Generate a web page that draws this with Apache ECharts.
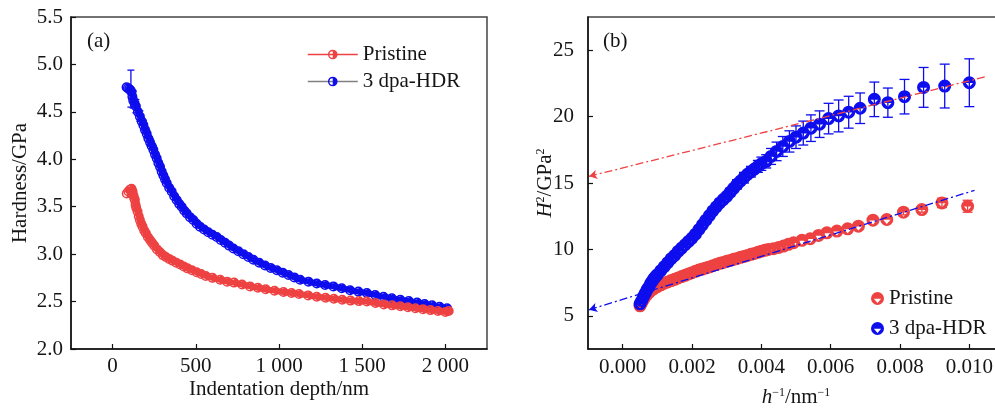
<!DOCTYPE html>
<html>
<head>
<meta charset="utf-8">
<script src="https://cdn.jsdelivr.net/npm/echarts@6/dist/echarts.min.js"></script>
<style>
html,body{margin:0;padding:0;background:#fff;}
#c{width:995px;height:408px;}
</style>
</head>
<body>
<div id="c"></div>
<script>
// ---------- data ----------
const seriesNames = ['Pristine', '3 dpa-HDR'];
const panelLabels = ['(a)', '(b)'];

// (a) hardness vs indentation depth  [depth nm, H GPa]
const pristineDepth = [
  [85,3.64],[95,3.66],[105,3.68],[114,3.69],[120,3.66],[125,3.62],[130,3.59],[134,3.57],[138,3.52],[142,3.49],
  [150,3.45],[157,3.40],[164,3.36],[172,3.32],[180,3.29],[190,3.25],[200,3.22],[212,3.18],[225,3.15],[237,3.12],
  [250,3.09],[267,3.05],[285,3.02],[302,2.99],[320,2.97],[340,2.95],[360,2.93],[383,2.91],[406,2.89],[428,2.87],
  [450,2.85],[477,2.83],[505,2.81],[532,2.79],[560,2.77],[600,2.75],[646,2.73],[688,2.71],[730,2.70],[778,2.68],
  [826,2.66],[873,2.645],[920,2.63],[973,2.615],[1027,2.60],[1075,2.59],[1120,2.58],[1175,2.565],[1227,2.55],[1280,2.54],
  [1330,2.53],[1380,2.52],[1430,2.51],[1480,2.505],[1528,2.50],[1580,2.485],[1630,2.47],[1680,2.46],[1729,2.45],[1775,2.44],
  [1820,2.43],[1865,2.42],[1910,2.41],[1955,2.40],[2000,2.39],[2020,2.40]
];
const hdrDepth = [
  [84,4.76],[92,4.75],[100,4.74],[107,4.73],[114,4.71],[119,4.66],[124,4.62],[132,4.59],[140,4.56],[152,4.50],
  [164,4.45],[175,4.40],[185,4.36],[195,4.31],[205,4.27],[215,4.22],[225,4.18],[235,4.14],[245,4.10],[255,4.05],
  [265,4.01],[275,3.96],[285,3.92],[295,3.87],[305,3.83],[315,3.79],[325,3.75],[340,3.70],[355,3.66],[370,3.61],
  [385,3.57],[400,3.53],[415,3.50],[430,3.46],[445,3.43],[465,3.39],[485,3.36],[505,3.32],[525,3.29],[550,3.26],
  [575,3.23],[600,3.205],[626,3.18],[650,3.15],[676,3.12],[700,3.09],[726,3.06],[756,3.03],[786,3.00],[816,2.97],
  [846,2.94],[881,2.91],[916,2.88],[950,2.855],[987,2.83],[1022,2.805],[1057,2.78],[1092,2.755],[1127,2.73],[1177,2.71],
  [1227,2.69],[1277,2.675],[1327,2.66],[1377,2.64],[1427,2.62],[1477,2.605],[1528,2.59],[1578,2.57],[1628,2.55],[1678,2.535],
  [1729,2.52],[1780,2.505],[1830,2.49],[1875,2.475],[1920,2.46],[1965,2.445],[2010,2.43]
];
// error bars [depth, low, high]
const hdrDepthErr = [
  [110,4.55,4.94],[124,4.54,4.72],[140,4.49,4.63],[164,4.40,4.51],[185,4.31,4.41],[205,4.23,4.31],[225,4.14,4.22],[245,4.06,4.14]
];

// (b) H^2 vs 1/h  [1/h nm^-1, H^2 GPa^2]
const pristineInv = [
  [0.00050,5.75],[0.00053,5.9],[0.00056,6.05],[0.00060,6.25],[0.00065,6.45],[0.00070,6.6],[0.00075,6.75],[0.00080,6.85],
  [0.00090,7.05],[0.00100,7.2],[0.00110,7.33],[0.00120,7.45],[0.00130,7.55],[0.00140,7.65],[0.00150,7.75],[0.00160,7.85],
  [0.00170,7.95],[0.00180,8.05],[0.00190,8.15],[0.00200,8.25],[0.00210,8.35],[0.00220,8.45],[0.00230,8.52],[0.00240,8.6],
  [0.00250,8.68],[0.00260,8.77],[0.00270,8.86],[0.00280,8.95],[0.00290,9.02],[0.00300,9.1],[0.00310,9.17],[0.00320,9.25],
  [0.00330,9.32],[0.00340,9.4],[0.00350,9.47],[0.00360,9.55],[0.00370,9.63],[0.00380,9.7],[0.00390,9.78],[0.00400,9.86],
  [0.00410,9.93],[0.00420,10.0],[0.00435,10.05],[0.00450,10.15],[0.00464,10.25],[0.00478,10.38],[0.00493,10.5],
  [0.00517,10.68],[0.00541,10.8],[0.00565,11.05],[0.00589,11.25],[0.00618,11.38],[0.00649,11.55],[0.00680,11.75],
  [0.00722,12.2],[0.00762,12.25],[0.00810,12.8],[0.00863,13.0],[0.00921,13.5],[0.00995,13.25]
];
const hdrInv = [
  [0.00050,5.9],[0.00055,6.15],[0.00060,6.45],[0.00065,6.7],[0.00070,6.95],[0.00075,7.15],[0.00080,7.4],[0.00085,7.6],
  [0.00090,7.8],[0.00095,7.95],[0.00100,8.1],[0.00110,8.4],[0.00120,8.7],[0.00130,9.0],[0.00140,9.3],[0.00150,9.55],
  [0.00160,9.85],[0.00170,10.1],[0.00180,10.35],[0.00190,10.6],[0.00200,10.85],[0.00210,11.15],[0.00220,11.5],[0.00230,11.85],
  [0.00240,12.2],[0.00250,12.55],[0.00260,12.9],[0.00270,13.2],[0.00280,13.5],[0.00290,13.75],[0.00300,14.0],[0.00310,14.3],
  [0.00320,14.6],[0.00330,14.9],[0.00340,15.15],[0.00350,15.4],[0.00360,15.65],[0.00370,15.85],[0.00380,16.05],[0.00390,16.25],
  [0.00400,16.45],
  [0.00414,16.63],[0.00428,17.0],[0.00444,17.38],[0.00462,17.75],[0.00481,18.13],[0.00500,18.45],[0.00521,18.76],
  [0.00543,19.13],[0.00568,19.43],[0.00594,19.85],[0.00623,20.05],[0.00652,20.33],[0.00685,20.63],[0.00726,21.3],
  [0.00765,21.05],[0.00813,21.5],[0.00868,22.2],[0.00929,22.3],[0.01000,22.55]
];
// error bars [1/h, low, high]
const hdrInvErr = [
  [0.00310,14.0,14.6],[0.00330,14.55,15.25],[0.00350,15.0,15.8],[0.00370,15.45,16.25],[0.00390,15.8,16.7],
  [0.00400,15.95,16.95],[0.00414,16.13,17.13],[0.00428,16.4,17.6],[0.00444,16.68,18.08],[0.00462,17.0,18.5],
  [0.00481,17.33,18.93],[0.00500,17.6,19.3],[0.00521,17.86,19.66],[0.00543,18.13,20.13],[0.00568,18.43,20.43],
  [0.00594,18.7,21.0],[0.00623,18.85,21.25],[0.00652,19.13,21.53],[0.00685,19.48,21.78],[0.00726,20.0,22.6],
  [0.00765,19.95,22.15],[0.00813,20.2,22.8],[0.00868,20.7,23.7],[0.00929,20.65,23.95],[0.01000,20.75,24.35]
];
const pristineInvErr = [
  [0.00810,12.6,13.0],[0.00863,12.8,13.2],[0.00921,13.15,13.85],[0.00995,12.8,13.7]
];
// linear fits (drawn with arrow towards the y axis)
const fitHdr = [[-0.00097,15.5],[0.01046,23.0]];
const fitPristine = [[-0.00097,5.45],[0.01015,14.45]];

// axis ticks
const depthTicks = [0,500,1000,1500,2000];
const invTicks = [0,0.002,0.004,0.006,0.008,0.010];
const h2Ticks = [5,10,15,20,25];

// ---------- style ----------
const FONT = '"Liberation Serif","Times New Roman",serif';
const FS = 21;
const RED = '#EE4242';
const BLUE = '#0D0DEE';
const TXT = '#151515';
const RING_LEFT = 'path://M0,10 A10,10 0 1,1 20,10 A10,10 0 1,1 0,10 Z M10,17 L10,3 A7,7 0 0,0 10,17 Z';
const RING_TRI = 'path://M0,10 A10,10 0 1,1 20,10 A10,10 0 1,1 0,10 Z M15.6,10.5 L4.4,10.5 L10,16.8 Z';

function errRender(capW, color, lw) {
  return function (params, api) {
    const x = api.value(0), lo = api.value(1), hi = api.value(2);
    const a = api.coord([x, lo]), b = api.coord([x, hi]);
    const st = {stroke: color, lineWidth: lw};
    return {type: 'group', children: [
      {type: 'line', shape: {x1: a[0], y1: a[1], x2: b[0], y2: b[1]}, style: st},
      {type: 'line', shape: {x1: a[0] - capW / 2, y1: a[1], x2: a[0] + capW / 2, y2: a[1]}, style: st},
      {type: 'line', shape: {x1: b[0] - capW / 2, y1: b[1], x2: b[0] + capW / 2, y2: b[1]}, style: st}
    ]};
  };
}
function fmtDepth(v) {
  if (v >= 1000) return Math.floor(v / 1000) + ' ' + String(v % 1000).padStart(3, '0');
  return String(v);
}

const axisCommon = {
  axisLine: {show: true, onZero: false, lineStyle: {color: '#111', width: 1.5}},
  axisTick: {show: true, inside: true, length: 5, lineStyle: {color: '#111', width: 1.2}},
  splitLine: {show: false},
  nameLocation: 'middle',
  nameMoveOverlap: false,
  nameTextStyle: {fontFamily: FONT, fontSize: FS, color: TXT}
};
const labelCommon = {fontFamily: FONT, fontSize: FS, color: TXT};
const richName = {
  i: {fontFamily: FONT, fontSize: FS, fontStyle: 'italic', color: TXT},
  n: {fontFamily: FONT, fontSize: FS, color: TXT},
  s: {fontFamily: FONT, fontSize: 12, color: TXT, verticalAlign: 'top'}
};

const chart = echarts.init(document.getElementById('c'), null, {renderer: 'canvas'});
chart.setOption({
  animation: false,
  backgroundColor: '#fff',
  grid: [
    {left: 71, top: 17, width: 416, height: 332, show: true, borderColor: '#444', borderWidth: 1.5,
     containLabel: false, outerBoundsMode: 'none'},
    {left: 588, top: 17, width: 416, height: 332, show: true, borderColor: '#444', borderWidth: 1.5,
     containLabel: false, outerBoundsMode: 'none'}
  ],
  xAxis: [
    Object.assign({}, axisCommon, {
      type: 'value', gridIndex: 0, min: -250, max: 2250,
      name: 'Indentation depth/nm', nameGap: 30,
      axisTick: Object.assign({}, axisCommon.axisTick, {customValues: depthTicks}),
      axisLabel: Object.assign({}, labelCommon, {margin: 7, customValues: depthTicks, formatter: fmtDepth})
    }),
    Object.assign({}, axisCommon, {
      type: 'value', gridIndex: 1, min: -0.001, max: 0.011,
      name: '{i|h}{s|−1}{n|/nm}{s|−1}', nameGap: 38,
      nameTextStyle: {fontFamily: FONT, fontSize: FS, color: TXT, rich: richName},
      axisTick: Object.assign({}, axisCommon.axisTick, {customValues: invTicks}),
      axisLabel: Object.assign({}, labelCommon, {margin: 8, customValues: invTicks, formatter: v => v.toFixed(3)})
    })
  ],
  yAxis: [
    Object.assign({}, axisCommon, {
      type: 'value', gridIndex: 0, min: 2, max: 5.5, interval: 0.5,
      name: 'Hardness/GPa', nameGap: 40,
      axisLabel: Object.assign({}, labelCommon, {margin: 8, formatter: v => v.toFixed(1)})
    }),
    Object.assign({}, axisCommon, {
      type: 'value', gridIndex: 1, min: 2.5, max: 27.5,
      name: '{i|H}{s|2}{n|/GPa}{s|2}', nameGap: 32,
      nameTextStyle: {fontFamily: FONT, fontSize: FS, color: TXT, rich: richName},
      axisTick: Object.assign({}, axisCommon.axisTick, {customValues: h2Ticks}),
      axisLabel: Object.assign({}, labelCommon, {margin: 14, customValues: h2Ticks, formatter: v => String(v)})
    })
  ],
  legend: [
    {
      orient: 'vertical', left: 302, top: 39, itemWidth: 50, itemHeight: 12, itemGap: 6,
      textStyle: {fontFamily: FONT, fontSize: FS, color: TXT},
      data: [
        {name: seriesNames[0], lineStyle: {width: 1.5, color: RED}},
        {name: seriesNames[1], lineStyle: {width: 1.5, color: '#808080'}}
      ]
    },
    {
      orient: 'vertical', left: 866, top: 283, itemWidth: 13, itemHeight: 13, itemGap: 9,
      textStyle: {fontFamily: FONT, fontSize: FS, color: TXT},
      formatter: n => n.replace('(b)', ''),
      data: [seriesNames[0] + '(b)', seriesNames[1] + '(b)']
    }
  ],
  graphic: [
    {type: 'text', left: 87, top: 31, style: {text: panelLabels[0], font: FS + 'px ' + FONT, fill: TXT}},
    {type: 'text', left: 603, top: 31, style: {text: panelLabels[1], font: FS + 'px ' + FONT, fill: TXT}}
  ],
  series: [
    // ---- panel (a) ----
    {type: 'custom', xAxisIndex: 0, yAxisIndex: 0, renderItem: errRender(7, BLUE, 1.3),
     encode: {x: 0, y: [1, 2]}, data: hdrDepthErr, silent: true, z: 1},
    {name: seriesNames[1], type: 'line', xAxisIndex: 0, yAxisIndex: 0, data: hdrDepth,
     symbol: RING_LEFT, symbolSize: 10, showAllSymbol: true,
     itemStyle: {color: BLUE}, lineStyle: {color: BLUE, width: 6}, z: 2},
    {name: seriesNames[0], type: 'line', xAxisIndex: 0, yAxisIndex: 0, data: pristineDepth,
     symbol: RING_LEFT, symbolSize: 10, showAllSymbol: true,
     itemStyle: {color: RED}, lineStyle: {color: RED, width: 6}, z: 3},
    // ---- panel (b) ----
    {type: 'custom', xAxisIndex: 1, yAxisIndex: 1, renderItem: errRender(10, RED, 1.3),
     encode: {x: 0, y: [1, 2]}, data: pristineInvErr, silent: true, z: 1},
    {name: seriesNames[0] + '(b)', type: 'scatter', xAxisIndex: 1, yAxisIndex: 1, data: pristineInv,
     symbol: RING_TRI, symbolSize: 13, itemStyle: {color: RED, opacity: 1}, z: 2},
    {type: 'custom', xAxisIndex: 1, yAxisIndex: 1, renderItem: errRender(10, BLUE, 1.3),
     encode: {x: 0, y: [1, 2]}, data: hdrInvErr, silent: true, z: 3},
    {name: seriesNames[1] + '(b)', type: 'scatter', xAxisIndex: 1, yAxisIndex: 1, data: hdrInv,
     symbol: RING_TRI, symbolSize: 13, itemStyle: {color: BLUE, opacity: 1}, z: 4},
    {type: 'line', xAxisIndex: 1, yAxisIndex: 1, data: fitHdr, showSymbol: false, silent: true,
     lineStyle: {opacity: 0}, z: 5,
     markLine: {silent: true, symbol: ['arrow', 'none'], symbolSize: [7, 8], label: {show: false},
       lineStyle: {color: RED, width: 1.3, type: [8, 3, 2, 3]},
       data: [[{coord: fitHdr[0]}, {coord: fitHdr[1]}]]}},
    {type: 'line', xAxisIndex: 1, yAxisIndex: 1, data: fitPristine, showSymbol: false, silent: true,
     lineStyle: {opacity: 0}, z: 5,
     markLine: {silent: true, symbol: ['arrow', 'none'], symbolSize: [7, 8], label: {show: false},
       lineStyle: {color: BLUE, width: 1.3, type: [8, 3, 2, 3]},
       data: [[{coord: fitPristine[0]}, {coord: fitPristine[1]}]]}}
  ]
});
</script>
</body>
</html>
